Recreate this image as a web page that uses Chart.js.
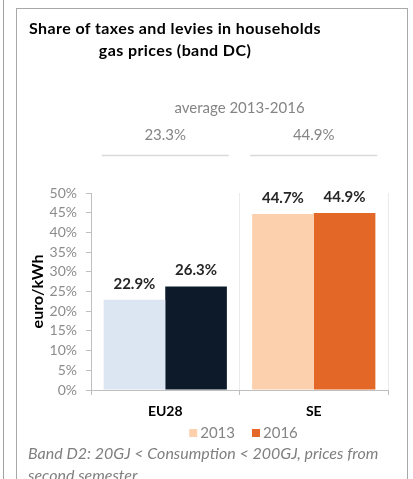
<!DOCTYPE html>
<html>
<head>
<meta charset="utf-8">
<script src="https://cdn.jsdelivr.net/npm/chart.js@4.4.0/dist/chart.umd.min.js"></script>
<style>
  html, body { margin: 0; padding: 0; background: #fff; width: 413px; height: 479px; overflow: hidden; position: relative; font-family: Lato, sans-serif; }
  #leftEdge { position: absolute; left: 3px; top: 0; height: 479px; border-left: 1.5px solid #a0a0a0; }
  #panel { position: absolute; left: 16px; top: 8px; width: 390px; height: 480px; border: 1.5px solid #a8a8a8; border-bottom: none; }
  #title { position: absolute; left: 25px; top: 17px; width: 300px; text-align: center; font-weight: bold; font-size: 16px; letter-spacing: 0.4px; line-height: 22px; color: #000; }
  #note { position: absolute; left: 28px; top: 442px; width: 380px; font-style: italic; font-size: 16px; line-height: 22px; color: #7f7f7f; white-space: nowrap; }
  #wrap { position: absolute; left: 0; top: 0; width: 413px; height: 479px; }
</style>
</head>
<body>
<div id="leftEdge"></div>
<div id="panel"></div>
<div id="wrap"><canvas id="taxChart" width="413" height="479"></canvas></div>
<div id="title">Share of taxes and levies in households<br>gas prices (band DC)</div>
<div id="note">Band D2: 20GJ &lt; Consumption &lt; 200GJ, prices from<br>second semester</div>
<script>
const categories = ['EU28', 'SE'];
const years = ['2013', '2016'];
const share2013 = [22.9, 44.7];
const share2016 = [26.3, 44.9];
const average1316 = [23.3, 44.9];
const averageLabel = 'average 2013-2016';

const colors2013 = ['#dce6f2', '#fcd0ac'];
const colors2016 = ['#0c1a2a', '#e36828'];

// value labels over bars, the "average" header and the legend
const annotations = {
  id: 'annotations',
  afterDatasetsDraw(chart) {
    const ctx = chart.ctx;
    const x = chart.scales.x;
    const mid = (x.left + x.right) / 2;
    ctx.save();
    ctx.textAlign = 'center';
    ctx.textBaseline = 'middle';
    ctx.font = 'bold 15px Lato';
    ctx.fillStyle = '#262626';
    chart.data.datasets.forEach((ds, i) => {
      chart.getDatasetMeta(i).data.forEach((bar, j) => {
        ctx.fillText(ds.data[j].toFixed(1) + '%', bar.x, bar.y - 16);
      });
    });

    ctx.font = '15px Lato';
    ctx.fillStyle = '#858585';
    ctx.fillText(averageLabel, mid, 108);
    ctx.strokeStyle = '#d9d9d9';
    ctx.lineWidth = 1.5;
    average1316.forEach((v, i) => {
      const cx = x.getPixelForValue(i);
      ctx.fillText(v.toFixed(1) + '%', cx, 135);
      ctx.beginPath();
      ctx.moveTo(cx - 63.5, 155.5);
      ctx.lineTo(cx + 63.5, 155.5);
      ctx.stroke();
    });

    // legend (uses the SE colours, like the original)
    ctx.font = '15px Lato';
    ctx.textAlign = 'left';
    const legendColors = [colors2013[1], colors2016[1]];
    const box = 8, gap = 3, spacing = 17;
    const widths = years.map(y => box + gap + ctx.measureText(y).width);
    const total = widths.reduce((a, b) => a + b, 0) + spacing * (years.length - 1);
    let lx = mid + 4 - total / 2;
    const ly = 433;
    years.forEach((y, i) => {
      ctx.fillStyle = legendColors[i];
      ctx.fillRect(lx, ly - box / 2, box, box);
      ctx.fillStyle = '#858585';
      ctx.fillText(y, lx + box + gap, ly);
      lx += widths[i] + spacing;
    });
    ctx.restore();
  }
};

const ctx = document.getElementById('taxChart').getContext('2d');

const taxChart = new Chart(ctx, {
  type: 'bar',
  data: {
    labels: categories,
    datasets: [{
      label: years[0],
      data: share2013,
      backgroundColor: colors2013,
      categoryPercentage: 0.83,
      barPercentage: 1.0
    }, {
      label: years[1],
      data: share2016,
      backgroundColor: colors2016,
      categoryPercentage: 0.83,
      barPercentage: 1.0
    }]
  },
  options: {
    responsive: false,
    animation: false,
    layout: {
      padding: { top: 193, right: 25, left: 0, bottom: 61 }
    },
    scales: {
      x: {
        grid: {
          offset: true,
          color: '#ebebeb',
          tickColor: '#bfbfbf',
          tickLength: 5
        },
        border: { color: '#bfbfbf' },
        ticks: {
          color: '#000',
          padding: 8,
          font: { family: 'Lato', size: 14, weight: 'bold' }
        },
        afterFit(scale) { scale.height = 28; }
      },
      y: {
        min: 0,
        max: 50,
        ticks: {
          stepSize: 5,
          autoSkip: false,
          padding: 9,
          color: '#8c8c8c',
          font: { family: 'Lato', size: 14 },
          callback: v => v + '%'
        },
        grid: {
          drawOnChartArea: false,
          color: '#bfbfbf',
          tickLength: 5
        },
        border: { color: '#bfbfbf' },
        title: {
          display: true,
          text: 'euro/kWh',
          color: '#000',
          font: { family: 'Lato', size: 16, weight: 'bold' },
          padding: { top: 28, bottom: 0 }
        },
        afterFit(scale) { scale.width = 91; }
      }
    },
    plugins: {
      legend: { display: false },
      tooltip: { enabled: false }
    }
  },
  plugins: [annotations]
});
</script>
</body>
</html>
